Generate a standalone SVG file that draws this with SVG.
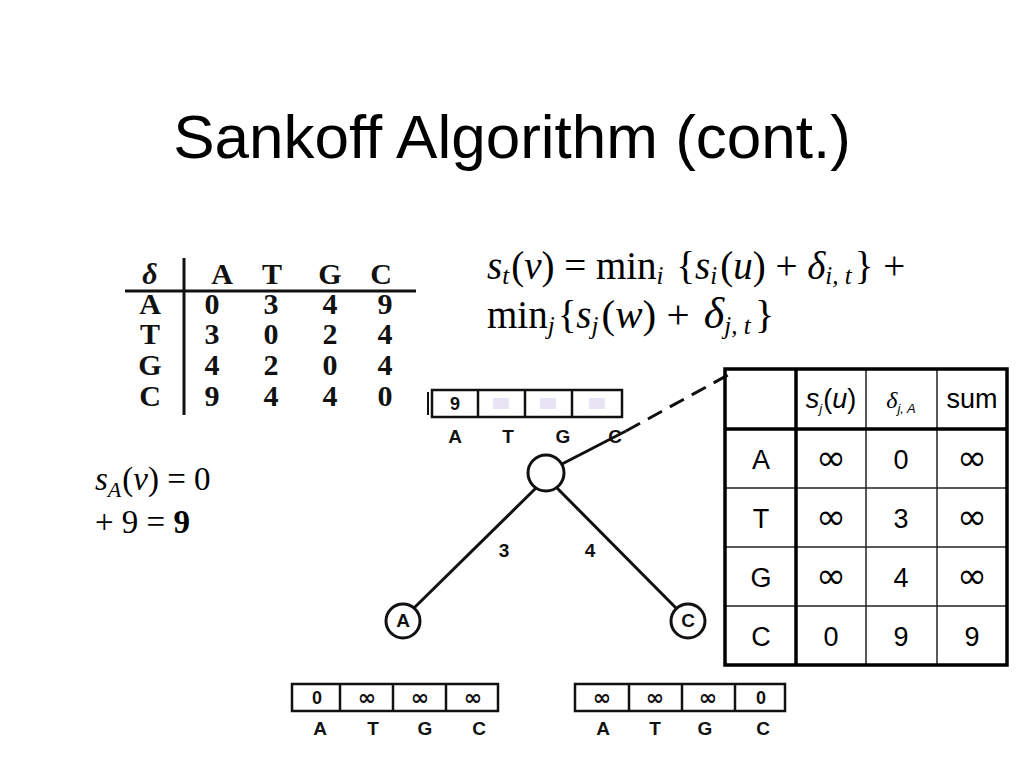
<svg xmlns="http://www.w3.org/2000/svg" width="1024" height="768" viewBox="0 0 1024 768">
<style>
.title{font-family:"Liberation Sans",Arial,sans-serif;font-size:62px;fill:#000}
.serif{font-family:"Liberation Serif","Times New Roman",serif;fill:#000}
.dt{font-family:"Liberation Serif","Times New Roman",serif;font-size:30px;font-weight:bold;fill:#111;text-anchor:middle}
.lab{font-family:"Liberation Sans",Arial,sans-serif;font-size:19px;font-weight:bold;fill:#111;text-anchor:middle}
.cell{font-family:"Liberation Sans",Arial,sans-serif;font-size:18px;font-weight:bold;fill:#111;text-anchor:middle}
.inf{font-family:"DejaVu Sans",sans-serif;font-size:22px;font-weight:bold;fill:#111;text-anchor:middle}
.tt{font-family:"Liberation Sans",Arial,sans-serif;font-size:27px;fill:#000;text-anchor:middle}
.ti{font-family:"DejaVu Sans",sans-serif;font-size:36px;fill:#000;text-anchor:middle}
.box{fill:none;stroke:#111;stroke-width:2.5}
.edge{stroke:#111;stroke-width:3;fill:none}
.node{fill:#fff;stroke:#111;stroke-width:3}
.thin{stroke:#222;stroke-width:1.5}
.thick{stroke:#000;stroke-width:3.5}
</style>
<rect width="1024" height="768" fill="#fff"/>
<text class="title" x="512" y="158" text-anchor="middle">Sankoff Algorithm (cont.)</text>

<g id="delta-table">
<line x1="125" y1="291" x2="416" y2="291" stroke="#111" stroke-width="3"/>
<line x1="184" y1="258" x2="184" y2="415" stroke="#111" stroke-width="3"/>
<line x1="428" y1="392" x2="428" y2="415" stroke="#111" stroke-width="2"/>
<text class="dt" x="150" y="284" font-style="italic">δ</text>
<text class="dt" x="222" y="284">A</text><text class="dt" x="272" y="284">T</text><text class="dt" x="330" y="284">G</text><text class="dt" x="381" y="284">C</text>
<text class="dt" x="150" y="314">A</text><text class="dt" x="212" y="314">0</text><text class="dt" x="271" y="314">3</text><text class="dt" x="330" y="314">4</text><text class="dt" x="385" y="314">9</text>
<text class="dt" x="150" y="344">T</text><text class="dt" x="212" y="344">3</text><text class="dt" x="271" y="344">0</text><text class="dt" x="330" y="344">2</text><text class="dt" x="385" y="344">4</text>
<text class="dt" x="150" y="375">G</text><text class="dt" x="212" y="375">4</text><text class="dt" x="271" y="375">2</text><text class="dt" x="330" y="375">0</text><text class="dt" x="385" y="375">4</text>
<text class="dt" x="150" y="406">C</text><text class="dt" x="212" y="406">9</text><text class="dt" x="271" y="406">4</text><text class="dt" x="330" y="406">4</text><text class="dt" x="385" y="406">0</text>
</g>

<g id="formula">
<text class="serif" x="487" y="279" font-size="39"><tspan font-style="italic">s</tspan><tspan font-style="italic" font-size="25" dy="5">t</tspan><tspan dy="-5" dx="2">(</tspan><tspan font-style="italic">v</tspan><tspan>) = min</tspan><tspan font-style="italic" font-size="25" dy="5">i</tspan><tspan dy="-5" dx="3"> {</tspan><tspan font-style="italic">s</tspan><tspan font-style="italic" font-size="25" dy="5">i</tspan><tspan dy="-5" dx="3">(</tspan><tspan font-style="italic">u</tspan><tspan>) + </tspan><tspan font-style="italic">δ</tspan><tspan font-style="italic" font-size="25" dy="5">i, t</tspan><tspan dy="-5" dx="3">} +</tspan></text>
<text class="serif" x="487" y="328" font-size="39"><tspan>min</tspan><tspan font-style="italic" font-size="25" dy="6">j</tspan><tspan dy="-6" dx="3">{</tspan><tspan font-style="italic">s</tspan><tspan font-style="italic" font-size="25" dy="6">j</tspan><tspan dy="-6" dx="3" font-size="41">(</tspan><tspan font-style="italic" font-size="41">w</tspan><tspan font-size="41">) + </tspan><tspan font-style="italic" font-size="44" dx="4">δ</tspan><tspan font-style="italic" font-size="25" dy="6">j, t</tspan><tspan dy="-6" dx="4" font-size="41">}</tspan></text>
</g>

<g id="sa-text">
<text class="serif" x="95" y="490" font-size="33"><tspan font-style="italic">s</tspan><tspan font-style="italic" font-size="22" dy="7">A</tspan><tspan dy="-7" dx="1">(</tspan><tspan font-style="italic">v</tspan><tspan>) = 0</tspan></text>
<text class="serif" x="95" y="533" font-size="33">+ 9 = <tspan font-weight="bold">9</tspan></text>
</g>

<g id="connectors">
<line class="edge" x1="562" y1="464" x2="626" y2="431"/>
<line class="edge" x1="626" y1="431" x2="728" y2="375" stroke-dasharray="16,9" stroke-width="2.5"/>
<line class="edge" x1="536" y1="488" x2="414" y2="608"/>
<line class="edge" x1="557" y1="488" x2="676" y2="608"/>
<text class="lab" x="504" y="557">3</text>
<text class="lab" x="590" y="557">4</text>
</g>

<g id="array-root">
<rect class="box" x="432" y="390" width="190" height="27"/>
<line class="box" x1="478" y1="390" x2="478" y2="417"/>
<line class="box" x1="525" y1="390" x2="525" y2="417"/>
<line class="box" x1="572" y1="390" x2="572" y2="417"/>
<rect x="493" y="398" width="16" height="11" fill="#e8e4f6"/>
<rect x="540" y="398" width="16" height="11" fill="#e8e4f6"/>
<rect x="589" y="398" width="16" height="11" fill="#e8e4f6"/>
<text class="cell" x="455" y="410">9</text>
<text class="lab" x="455" y="443">A</text><text class="lab" x="508" y="443">T</text><text class="lab" x="563" y="443">G</text><text class="lab" x="615" y="443">C</text>
</g>

<g id="node-root"><circle class="node" cx="546" cy="473" r="18"/></g>
<g id="node-A"><circle class="node" cx="403" cy="621" r="17"/><text class="lab" x="403" y="627" font-size="16">A</text></g>
<g id="node-C"><circle class="node" cx="688" cy="621" r="17"/><text class="lab" x="688" y="627" font-size="16">C</text></g>

<g id="array-A">
<rect class="box" x="292" y="684" width="206" height="27"/>
<line class="box" x1="340" y1="684" x2="340" y2="711"/>
<line class="box" x1="393" y1="684" x2="393" y2="711"/>
<line class="box" x1="446" y1="684" x2="446" y2="711"/>
<text class="cell" x="317" y="704">0</text><text class="inf" x="367" y="705">∞</text><text class="inf" x="420" y="705">∞</text><text class="inf" x="473" y="705">∞</text>
<text class="lab" x="320" y="735">A</text><text class="lab" x="373" y="735">T</text><text class="lab" x="425" y="735">G</text><text class="lab" x="479" y="735">C</text>
</g>

<g id="array-C">
<rect class="box" x="575" y="684" width="210" height="27"/>
<line class="box" x1="629" y1="684" x2="629" y2="711"/>
<line class="box" x1="682" y1="684" x2="682" y2="711"/>
<line class="box" x1="735" y1="684" x2="735" y2="711"/>
<text class="inf" x="602" y="705">∞</text><text class="inf" x="655" y="705">∞</text><text class="inf" x="708" y="705">∞</text><text class="cell" x="761" y="704">0</text>
<text class="lab" x="603" y="735">A</text><text class="lab" x="655" y="735">T</text><text class="lab" x="705" y="735">G</text><text class="lab" x="763" y="735">C</text>
</g>

<g id="sum-table">
<line class="thin" x1="866" y1="369" x2="866" y2="665"/>
<line class="thin" x1="937" y1="369" x2="937" y2="665"/>
<line class="thin" x1="725" y1="488" x2="1007" y2="488"/>
<line class="thin" x1="725" y1="547" x2="1007" y2="547"/>
<line class="thin" x1="725" y1="606" x2="1007" y2="606"/>
<line class="thick" x1="796" y1="369" x2="796" y2="665"/>
<line class="thick" x1="725" y1="429" x2="1007" y2="429"/>
<rect x="725" y="369" width="282" height="296" fill="none" stroke="#000" stroke-width="3.5"/>
<text class="tt" x="831" y="408" font-size="20"><tspan font-style="italic">s</tspan><tspan font-style="italic" font-size="13" dy="5">j</tspan><tspan dy="-5" dx="1">(</tspan><tspan font-style="italic">u</tspan><tspan>)</tspan></text>
<text class="tt" x="901" y="408" font-size="20"><tspan font-family="Liberation Serif" font-style="italic" font-size="24">δ</tspan><tspan font-style="italic" font-size="13" dy="5">j, A</tspan></text>
<text class="tt" x="972" y="408" font-size="20">sum</text>
<text class="tt" x="761" y="469">A</text><text class="ti" x="831" y="470">∞</text><text class="tt" x="901" y="469">0</text><text class="ti" x="972" y="470">∞</text>
<text class="tt" x="761" y="528">T</text><text class="ti" x="831" y="529">∞</text><text class="tt" x="901" y="528">3</text><text class="ti" x="972" y="529">∞</text>
<text class="tt" x="761" y="587">G</text><text class="ti" x="831" y="588">∞</text><text class="tt" x="901" y="587">4</text><text class="ti" x="972" y="588">∞</text>
<text class="tt" x="761" y="646">C</text><text class="tt" x="831" y="646">0</text><text class="tt" x="901" y="646">9</text><text class="tt" x="972" y="646">9</text>
</g>
</svg>
